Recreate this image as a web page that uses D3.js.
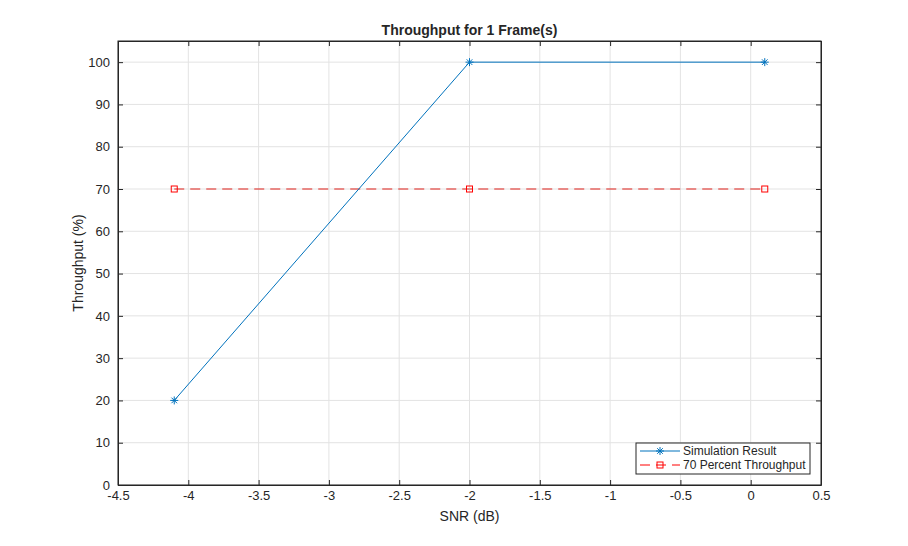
<!DOCTYPE html>
<html>
<head>
<meta charset="utf-8">
<style>body{margin:0;background:#fff}text{font-family:"Liberation Sans",Arial,sans-serif}</style>
</head>
<body>
<script src="https://d3js.org/d3.v7.min.js"></script>
<script>
var width = 908, height = 546,
    margin = {left: 118, right: 87, top: 41, bottom: 61};

var snr = [-4.1, -2, 0.1];
var throughput = [20, 100, 100];
var target = [70, 70, 70];
var xTicks = [-4.5, -4, -3.5, -3, -2.5, -2, -1.5, -1, -0.5, 0, 0.5];
var yTicks = [0, 10, 20, 30, 40, 50, 60, 70, 80, 90, 100];

var blue = '#0072bd', red = '#ff0000';

var svg = d3.select('body').append('svg').attr('width', width).attr('height', height);
var x = d3.scaleLinear().domain([-4.5, 0.5]).range([margin.left, width - margin.right]);
var y = d3.scaleLinear().domain([0, 105]).range([height - margin.bottom, margin.top]);
var x0 = margin.left, x1 = width - margin.right, y0 = height - margin.bottom, y1 = margin.top;

// grid
svg.append('g').selectAll('line').data(xTicks).enter().append('line')
    .attr('x1', d => x(d)).attr('x2', d => x(d)).attr('y1', y0).attr('y2', y1)
    .attr('stroke', '#e3e3e3');
svg.append('g').selectAll('line').data(yTicks).enter().append('line')
    .attr('y1', d => y(d)).attr('y2', d => y(d)).attr('x1', x0).attr('x2', x1)
    .attr('stroke', '#e3e3e3');

// axes
var xa = svg.append('g').attr('transform', 'translate(0,' + y0 + ')')
    .call(d3.axisBottom(x).tickValues(xTicks).tickFormat(d => String(d)).tickSizeInner(-5).tickSizeOuter(0).tickPadding(6));
var xt = svg.append('g').attr('transform', 'translate(0,' + y1 + ')')
    .call(d3.axisTop(x).tickValues(xTicks).tickFormat('').tickSizeInner(-5).tickSizeOuter(0));
var ya = svg.append('g').attr('transform', 'translate(' + x0 + ',0)')
    .call(d3.axisLeft(y).tickValues(yTicks).tickSizeInner(-5).tickSizeOuter(0).tickPadding(8));
var yr = svg.append('g').attr('transform', 'translate(' + x1 + ',0)')
    .call(d3.axisRight(y).tickValues(yTicks).tickFormat('').tickSizeInner(-5).tickSizeOuter(0));
[xa, xt, ya, yr].forEach(function (g) {
    g.selectAll('line').attr('stroke', '#262626');
    g.select('.domain').attr('stroke', '#262626');
    g.selectAll('text').attr('fill', '#262626').style('font-size', '13px');
});
svg.append('rect').attr('x', x0).attr('y', y1).attr('width', x1 - x0).attr('height', y0 - y1)
    .attr('fill', 'none').attr('stroke', '#262626');

// labels
svg.append('text').attr('x', (x0 + x1) / 2).attr('y', 35).attr('text-anchor', 'middle')
    .style('font-size', '14px').style('font-weight', 'bold').attr('fill', '#262626').text('Throughput for 1 Frame(s)');
svg.append('text').attr('x', (x0 + x1) / 2).attr('y', 521).attr('text-anchor', 'middle')
    .style('font-size', '14px').attr('fill', '#262626').text('SNR (dB)');
svg.append('text').attr('transform', 'translate(83,' + (y0 + y1) / 2 + ') rotate(-90)').attr('text-anchor', 'middle')
    .style('font-size', '14px').attr('fill', '#262626').text('Throughput (%)');

var line = d3.line().x(d => x(d[0])).y(d => y(d[1]));

function star(g, cx, cy, c) {
    var r = 4;
    [[-r, 0, r, 0], [0, -r, 0, r], [-r * .7, -r * .7, r * .7, r * .7], [-r * .7, r * .7, r * .7, -r * .7]].forEach(function (s) {
        g.append('line').attr('x1', cx + s[0]).attr('y1', cy + s[1]).attr('x2', cx + s[2]).attr('y2', cy + s[3]).attr('stroke', c);
    });
}
function square(g, cx, cy, c) {
    g.append('rect').attr('x', cx - 3).attr('y', cy - 3).attr('width', 6).attr('height', 6)
        .attr('fill', 'none').attr('stroke', c);
}

var tpData = d3.zip(snr, target);
svg.append('path').attr('d', line(tpData)).attr('fill', 'none').attr('stroke', '#e0201b').attr('stroke-dasharray', '10,6');
tpData.forEach(d => square(svg, x(d[0]), y(d[1]), red));

var simData = d3.zip(snr, throughput);
svg.append('path').attr('d', line(simData)).attr('fill', 'none').attr('stroke', blue);
simData.forEach(d => star(svg, x(d[0]), y(d[1]), blue));

// legend
var lg = svg.append('g').attr('transform', 'translate(636,443)');
lg.append('rect').attr('width', 174).attr('height', 31).attr('fill', '#fff').attr('stroke', '#262626');
lg.append('line').attr('x1', 4).attr('x2', 44).attr('y1', 8).attr('y2', 8).attr('stroke', blue);
star(lg, 24, 8, blue);
lg.append('line').attr('x1', 4).attr('x2', 44).attr('y1', 22).attr('y2', 22).attr('stroke', red).attr('stroke-dasharray', '10,6');
square(lg, 24, 22, red);
lg.append('text').attr('x', 47).attr('y', 12).style('font-size', '12px').attr('fill', '#262626').text('Simulation Result');
lg.append('text').attr('x', 47).attr('y', 26).style('font-size', '12px').attr('fill', '#262626').text('70 Percent Throughput');
</script>
</body>
</html>
